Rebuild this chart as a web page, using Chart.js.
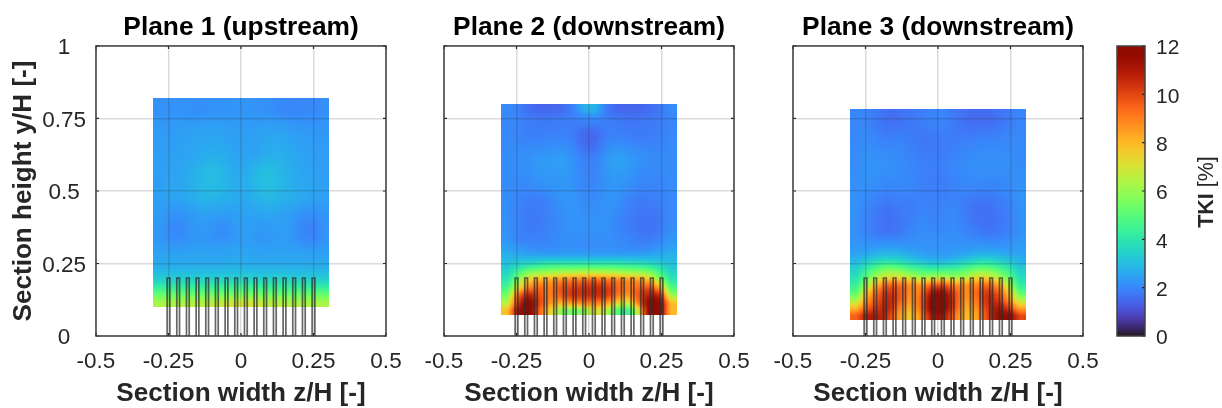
<!DOCTYPE html>
<html><head><meta charset="utf-8">
<script src="https://cdn.jsdelivr.net/npm/chart.js@4/dist/chart.umd.min.js"></script>
<style>html,body{margin:0;padding:0;background:#fff;width:1222px;height:408px;overflow:hidden}canvas{position:absolute;top:0}</style>
</head><body>
<canvas id="p1" width="416" height="408" style="left:0"></canvas>
<canvas id="p2" width="416" height="408" style="left:348px"></canvas>
<canvas id="p3" width="416" height="408" style="left:697px"></canvas>
<canvas id="cb" width="122" height="408" style="left:1100px"></canvas>
<script>
const xTicks=[-0.5,-0.25,0,0.25,0.5];
const yTicks=[0,0.25,0.5,0.75,1];
const cbTicks=[0,2,4,6,8,10,12];
const cbRange=[0,12];
const titles=["Plane 1 (upstream)","Plane 2 (downstream)","Plane 3 (downstream)"];
const xLabel="Section width z/H [-]";
const yLabel="Section height y/H [-]";
const vaneCenters=[-0.25,-0.2167,-0.1833,-0.15,-0.1167,-0.0833,-0.05,-0.0167,0.0167,0.05,0.0833,0.1167,0.15,0.1833,0.2167,0.25];
const vaneHalfWidth=0.0047;
const vaneTop=0.2;
const zCols=[-0.2845,-0.2466,-0.2086,-0.1707,-0.1328,-0.0948,-0.0569,-0.019,0.019,0.0569,0.0948,0.1328,0.1707,0.2086,0.2466,0.2845];
const plane1Edges=[0.82,0.744,0.668,0.592,0.516,0.44,0.364,0.337,0.311,0.284,0.258,0.231,0.205,0.178,0.152,0.125,0.0985];
const plane2Edges=[0.80,0.775,0.724,0.648,0.572,0.496,0.42,0.344,0.317,0.290,0.263,0.235,0.208,0.181,0.154,0.127,0.100,0.0725];
const plane3Edges=[0.782,0.706,0.630,0.554,0.478,0.402,0.326,0.299,0.272,0.245,0.218,0.191,0.163,0.136,0.109,0.082,0.055];
const plane1Values=[
[2.2,2.2,2.2,2.15,2.15,2.2,2.2,2.25,2.25,2.2,2.15,2.05,2.0,2.0,2.05,2.15],
[2.35,2.35,2.4,2.45,2.5,2.5,2.45,2.4,2.4,2.45,2.5,2.5,2.4,2.35,2.3,2.3],
[2.4,2.45,2.5,2.55,2.65,2.7,2.6,2.5,2.5,2.55,2.7,2.7,2.6,2.5,2.4,2.4],
[2.4,2.5,2.55,2.7,2.9,3.0,2.85,2.65,2.7,2.95,3.05,2.9,2.7,2.55,2.5,2.4],
[2.45,2.5,2.55,2.65,2.8,2.85,2.75,2.65,2.65,2.8,2.9,2.8,2.7,2.6,2.5,2.45],
[2.35,2.2,2.15,2.3,2.4,2.35,2.3,2.4,2.45,2.45,2.5,2.45,2.35,2.15,2.05,2.2],
[2.3,2.1,2.05,2.25,2.3,2.2,2.1,2.3,2.4,2.3,2.3,2.4,2.3,2.05,1.95,2.2],
[2.35,2.25,2.2,2.3,2.35,2.3,2.3,2.4,2.4,2.35,2.35,2.4,2.35,2.2,2.1,2.25],
[2.45,2.4,2.4,2.45,2.45,2.45,2.45,2.5,2.5,2.45,2.45,2.45,2.45,2.4,2.35,2.4],
[2.55,2.55,2.55,2.55,2.55,2.55,2.55,2.6,2.6,2.55,2.55,2.55,2.55,2.55,2.5,2.55],
[2.7,2.7,2.7,2.7,2.7,2.7,2.75,2.75,2.75,2.75,2.7,2.7,2.7,2.7,2.7,2.7],
[3.0,3.0,3.0,3.0,3.05,3.05,3.05,3.1,3.1,3.05,3.05,3.05,3.0,3.0,3.0,3.0],
[3.5,3.5,3.55,3.55,3.6,3.6,3.6,3.65,3.65,3.6,3.6,3.6,3.55,3.55,3.5,3.5],
[4.4,4.4,4.4,4.45,4.5,4.5,4.55,4.6,4.6,4.55,4.5,4.5,4.45,4.4,4.4,4.4],
[5.4,5.4,5.45,5.5,5.55,5.6,5.7,5.75,5.75,5.7,5.6,5.55,5.5,5.45,5.4,5.4],
[6.3,6.3,6.35,6.4,6.5,6.6,6.8,7.0,7.0,6.8,6.6,6.5,6.4,6.35,6.3,6.3]];
const plane2Values=[
[2.1,1.9,1.6,1.45,1.45,1.55,1.9,2.7,2.8,1.9,1.5,1.45,1.45,1.55,1.8,2.1],
[2.0,1.95,1.8,1.75,1.75,1.8,1.85,2.0,2.05,1.85,1.75,1.7,1.7,1.75,1.85,2.0],
[2.05,2.0,1.9,1.9,1.95,1.95,1.85,1.5,1.5,1.85,1.95,1.9,1.85,1.85,1.9,2.05],
[2.1,2.15,2.2,2.3,2.35,2.4,2.2,1.9,1.9,2.25,2.45,2.35,2.2,2.1,2.05,2.1],
[2.1,2.05,2.1,2.2,2.25,2.3,2.2,2.0,2.0,2.2,2.3,2.2,2.05,2.0,2.0,2.1],
[2.1,1.95,1.85,1.85,2.0,2.2,2.25,2.1,2.1,2.2,2.15,1.95,1.8,1.8,1.9,2.05],
[2.15,1.95,1.8,1.8,1.95,2.1,2.2,2.2,2.2,2.2,2.0,1.85,1.7,1.65,1.8,2.1],
[2.3,2.0,1.95,1.9,2.0,2.1,2.15,2.1,2.1,2.15,2.1,2.0,1.85,1.85,2.0,2.3],
[2.5,2.3,2.15,2.1,2.1,2.15,2.2,2.15,2.15,2.2,2.15,2.1,2.05,2.1,2.3,2.5],
[2.8,2.7,2.65,2.6,2.6,2.6,2.6,2.6,2.6,2.6,2.6,2.6,2.6,2.65,2.7,2.8],
[3.1,3.4,3.7,3.9,4.1,4.1,4.1,4.1,4.1,4.1,4.1,4.0,3.9,3.7,3.4,3.1],
[3.5,4.5,5.5,5.8,6.0,6.2,6.3,6.4,6.4,6.3,6.2,6.0,5.9,5.5,4.5,3.5],
[4.0,5.6,7.3,8.0,8.2,8.6,8.9,9.0,9.2,9.0,8.8,8.5,8.3,7.6,5.8,4.0],
[4.6,7.0,8.8,9.3,9.0,9.7,10.0,10.2,10.4,10.2,9.5,9.0,9.3,9.6,8.0,4.8],
[5.5,9.0,10.6,9.8,9.0,9.6,10.2,10.3,10.4,10.2,9.2,8.6,9.7,10.8,10.2,6.0],
[6.5,10.0,11.7,10.0,8.6,8.2,8.6,8.8,9.0,8.6,7.4,6.8,9.0,11.6,11.3,7.8],
[7.8,11.0,11.8,9.5,7.4,5.8,5.4,5.8,7.0,6.5,5.0,4.5,7.0,11.6,11.3,8.0]];
const plane3Values=[
[2.0,1.95,1.75,1.6,1.65,1.75,1.85,1.95,1.95,1.75,1.6,1.55,1.55,1.65,1.85,2.0],
[2.05,2.1,2.0,1.95,1.95,1.85,1.75,1.75,1.8,1.85,1.9,1.95,2.0,2.0,2.05,2.05],
[2.1,2.2,2.2,2.15,2.1,2.0,1.9,1.85,1.9,2.0,2.1,2.15,2.15,2.15,2.15,2.1],
[2.15,2.15,2.1,2.0,2.05,2.0,1.9,1.85,1.85,1.95,2.0,2.0,1.95,2.0,2.1,2.2],
[2.15,2.0,1.8,1.7,1.8,1.85,1.95,1.9,1.95,2.0,1.8,1.65,1.65,1.75,1.95,2.2],
[2.15,1.95,1.75,1.65,1.75,1.95,2.1,2.05,2.05,2.1,1.95,1.8,1.7,1.75,1.95,2.2],
[2.3,2.25,2.25,2.3,2.25,2.25,2.25,2.2,2.2,2.25,2.2,2.25,2.2,2.2,2.25,2.35],
[2.5,2.6,2.8,2.85,2.8,2.6,2.45,2.35,2.35,2.45,2.55,2.7,2.75,2.65,2.55,2.5],
[2.9,3.3,3.7,3.9,3.7,3.4,3.1,2.9,2.9,3.1,3.4,3.7,3.8,3.5,3.2,2.8],
[3.4,4.2,5.0,5.5,5.3,4.8,4.5,4.3,4.4,4.5,4.8,5.3,5.3,4.8,4.1,3.3],
[3.8,5.0,6.3,7.0,7.0,6.5,6.0,6.2,6.3,6.0,6.3,7.0,7.0,6.3,5.0,3.7],
[4.3,6.2,8.0,9.3,9.2,8.6,8.5,9.3,9.5,8.7,8.5,8.8,9.2,8.2,6.2,4.2],
[5.0,7.5,9.3,10.3,9.7,8.8,9.3,11.0,11.2,9.8,8.8,9.4,10.2,9.5,7.5,5.0],
[6.3,8.5,9.8,10.6,9.6,8.6,9.6,11.7,11.8,10.0,8.6,9.2,10.4,10.2,8.6,6.5],
[8.0,9.5,10.3,10.6,9.0,8.2,9.5,11.7,11.7,9.8,8.3,8.8,10.2,11.0,10.0,8.3],
[9.5,10.8,10.8,10.2,8.5,7.6,9.0,11.0,11.0,9.2,8.0,8.4,10.0,11.4,11.4,10.0]];

const FONT='"Liberation Sans", Arial, sans-serif';
const INK='#262626';
Chart.defaults.font.family=FONT;
Chart.defaults.animation=false;

function turbo(t){
  t=Math.min(1,Math.max(0,t));
  const p=c=>c.reduceRight((a,k)=>a*t+k,0);
  const ch=v=>Math.round(255*Math.min(1,Math.max(0,v)));
  return [ch(p([0.13572138,4.6153926,-42.66032258,132.13108234,-152.94239396,59.28637943])),
          ch(p([0.09140261,2.19418839,4.84296658,-14.18503333,4.27729857,2.82956604])),
          ch(p([0.1066733,12.64194608,-60.58204836,110.36276771,-89.90310912,27.34824973]))];
}
function cr(a,b,c,d,t){return 0.5*(2*b+(c-a)*t+(2*a-5*b+4*c-d)*t*t+(3*b-a-3*c+d)*t*t*t);}
function fracIndex(list,v){
  const up=list[1]>list[0];
  if(up?v<=list[0]:v>=list[0])return 0;
  for(let i=1;i<list.length;i++){
    if(up?v<=list[i]:v>=list[i])return i-1+(v-list[i-1])/(list[i]-list[i-1]);
  }
  return list.length-1;
}
function sampler(vals,ys){
  const R=vals.length,C=vals[0].length;
  const at=(r,c)=>vals[Math.max(0,Math.min(R-1,r))][Math.max(0,Math.min(C-1,c))];
  return (z,y)=>{
    const fc=fracIndex(zCols,z),fr=fracIndex(ys,y);
    const c=Math.min(C-1,Math.floor(fc)),r=Math.min(R-1,Math.floor(fr));
    const tc=fc-c,tr=fr-r,row=[];
    for(let k=-1;k<=2;k++)row.push(cr(at(r+k,c-1),at(r+k,c),at(r+k,c+1),at(r+k,c+2),tc));
    return cr(row[0],row[1],row[2],row[3],tr);
  };
}
function heatPoints(vals,edges){
  const pts=[];
  vals.forEach((row,r)=>row.forEach((v,c)=>pts.push({x:zCols[c],y:(edges[r]+edges[r+1])/2,v,r,c})));
  return pts;
}
function makeStyle(chart,pt,edges,sample){
  const xs=chart.scales.x,ys=chart.scales.y;
  const step=zCols[1]-zCols[0];
  const x0=xs.getPixelForValue(pt.x-step/2),x1=xs.getPixelForValue(pt.x+step/2);
  const y0=ys.getPixelForValue(edges[pt.r]),y1=ys.getPixelForValue(edges[pt.r+1]);
  if(!isFinite(x0+x1+y0+y1)||!(x1>x0)||!(y1>y0))return null;
  const w=Math.ceil(x1-x0)+2,h=Math.ceil(y1-y0)+2;
  const cx=(x0+x1)/2,cy=(y0+y1)/2;
  const cv=document.createElement('canvas');cv.width=w;cv.height=h;
  const g=cv.getContext('2d'),img=g.createImageData(w,h);
  for(let j=0;j<h;j++)for(let i=0;i<w;i++){
    const z=xs.getValueForPixel(cx-w/2+i+0.5),y=ys.getValueForPixel(cy-h/2+j+0.5);
    const col=turbo(sample(z,y)/12),o=(j*w+i)*4;
    img.data[o]=col[0];img.data[o+1]=col[1];img.data[o+2]=col[2];img.data[o+3]=255;
  }
  g.putImageData(img,0,0);
  return cv;
}
const clipHeat={id:'clipHeat',
  beforeDatasetDraw(chart,args){
    const d=chart.data.datasets[args.index];
    if(!d.heatEdges)return;
    const xs=chart.scales.x,ys=chart.scales.y,e=d.heatEdges,step=zCols[1]-zCols[0];
    const l=Math.round(xs.getPixelForValue(zCols[0]-step/2)),r=Math.round(xs.getPixelForValue(zCols[zCols.length-1]+step/2));
    const t=Math.round(ys.getPixelForValue(e[0])),b=Math.round(ys.getPixelForValue(e[e.length-1]));
    chart.ctx.save();chart.ctx.beginPath();chart.ctx.rect(l,t,r-l,b-t);chart.ctx.clip();
  },
  afterDatasetDraw(chart,args){
    if(chart.data.datasets[args.index].heatEdges)chart.ctx.restore();
  }};
const boxFrame={id:'boxFrame',afterDraw(chart){
  const {ctx,chartArea:a,scales}=chart;
  ctx.save();ctx.strokeStyle=INK;ctx.lineWidth=1.2;
  ctx.beginPath();
  if(scales.x&&scales.x.type==='linear'){
    scales.x.ticks.forEach(t=>{const p=scales.x.getPixelForValue(t.value);
      ctx.moveTo(p,a.bottom);ctx.lineTo(p,a.bottom-3);ctx.moveTo(p,a.top);ctx.lineTo(p,a.top+3);});
    scales.y.ticks.forEach(t=>{const p=scales.y.getPixelForValue(t.value);
      ctx.moveTo(a.left,p);ctx.lineTo(a.left+3,p);ctx.moveTo(a.right,p);ctx.lineTo(a.right-3,p);});
  }else{
    scales.y.ticks.forEach(t=>{const p=scales.y.getPixelForValue(t.value);
      ctx.moveTo(a.right,p);ctx.lineTo(a.right-3,p);});
  }
  ctx.stroke();
  ctx.lineWidth=1.5;ctx.strokeStyle='#404040';
  ctx.strokeRect(a.left,a.top,a.right-a.left,a.bottom-a.top);
  ctx.restore();
}};
function plane(id,idx,vals,edges,showY){
  const sample=sampler(vals,edges.slice(0,-1).map((e,i)=>(e+edges[i+1])/2));
  const cache=[];
  const vanes=vaneCenters.map(z=>({type:'scatter',showLine:true,pointRadius:0,borderColor:'rgba(45,45,45,0.72)',borderWidth:1.7,fill:false,
    data:[{x:z-vaneHalfWidth,y:0},{x:z-vaneHalfWidth,y:vaneTop},{x:z+vaneHalfWidth,y:vaneTop},{x:z+vaneHalfWidth,y:0}]}));
  const heat={type:'scatter',heatEdges:edges,showLine:false,data:heatPoints(vals,edges),pointRadius:4,pointBorderWidth:0,
    pointStyle(c){
      if(c.type!=='data'||!c.raw)return 'rect';
      if(cache[c.dataIndex])return cache[c.dataIndex];
      const s=makeStyle(c.chart,c.raw,edges,sample);
      if(!s)return 'rect';
      return cache[c.dataIndex]=s;
    }};
  const ch=new Chart(document.getElementById(id),{type:'scatter',
    data:{datasets:[...vanes,heat]},
    plugins:[clipHeat,boxFrame],
    options:{responsive:false,events:[],
      layout:{padding:{left:0,right:30,top:0,bottom:0}},
      plugins:{legend:{display:false},tooltip:{enabled:false},
        title:{display:true,text:titles[idx],color:'#000',fullSize:false,font:{size:26.3,weight:'bold',family:FONT},padding:{top:12,bottom:2.4}}},
      scales:{
        x:{type:'linear',min:-0.5,max:0.5,afterBuildTicks(s){s.ticks=xTicks.map(v=>({value:v}));},afterFit(s){s.height=72;},
          grid:{z:1,color:'rgba(38,38,38,0.17)',lineWidth:1.5,drawTicks:false},border:{display:false},
          ticks:{color:INK,font:{size:22.5},padding:12,maxRotation:0,autoSkip:false,callback:v=>String(v)},
          title:{display:true,text:xLabel,color:INK,font:{size:26.1,weight:'bold',lineHeight:1.06},padding:0}},
        y:{type:'linear',min:0,max:1,afterBuildTicks(s){s.ticks=yTicks.map(v=>({value:v}));},afterFit(s){s.width=96;},
          grid:{z:1,color:'rgba(38,38,38,0.17)',lineWidth:1.5,drawTicks:false},border:{display:false},
          ticks:{display:showY,color:INK,font:{size:22.5},padding:10,crossAlign:'center',labelOffset:2,autoSkip:false,callback:v=>String(v)},
          title:{display:showY,text:yLabel,color:INK,font:{size:26.1,weight:'bold'},padding:{top:8,bottom:0}}}
      }}});
  ch.update();
}
plane('p1',0,plane1Values,plane1Edges,true);
plane('p2',1,plane2Values,plane2Edges,false);
plane('p3',2,plane3Values,plane3Edges,false);

const cbLabel={id:'cbLabel',afterDraw(chart){
  const ctx=chart.ctx;ctx.save();ctx.translate(107,192);ctx.rotate(-Math.PI/2);
  ctx.fillStyle=INK;ctx.textBaseline='middle';
  ctx.font='bold 21.5px '+FONT;const a='TKI';const wa=ctx.measureText(a).width;
  ctx.font='21.5px '+FONT;const b=' [%]';const wb=ctx.measureText(b).width;
  let x=-(wa+wb)/2;
  ctx.font='bold 21.5px '+FONT;ctx.textAlign='left';ctx.fillText(a,x,0);
  ctx.font='21.5px '+FONT;ctx.fillText(b,x+wa,0);
  ctx.restore();
}};
new Chart(document.getElementById('cb'),{type:'bar',
  data:{labels:['TKI'],datasets:[{data:[cbRange],barPercentage:1,categoryPercentage:1,borderWidth:0,
    backgroundColor(c){
      const y=c.chart.scales.y;if(!y||!isFinite(y.getPixelForValue(0)))return '#000';
      const g=c.chart.ctx.createLinearGradient(0,y.getPixelForValue(cbRange[0]),0,y.getPixelForValue(cbRange[1]));
      for(let i=0;i<=64;i++){const r=turbo(i/64);g.addColorStop(i/64,`rgb(${r[0]},${r[1]},${r[2]})`);}
      return g;
    }}]},
  plugins:[boxFrame,cbLabel],
  options:{responsive:false,events:[],
    layout:{padding:{left:17,right:0,top:46,bottom:72}},
    plugins:{legend:{display:false},tooltip:{enabled:false}},
    scales:{
      x:{display:false,type:'category'},
      y:{type:'linear',position:'right',min:0,max:12,afterBuildTicks(s){s.ticks=cbTicks.map(v=>({value:v}));},afterFit(s){s.width=77;},
        grid:{display:false,drawTicks:false},border:{display:false},
        ticks:{color:INK,font:{size:21},padding:11,labelOffset:2.5,autoSkip:false}}
    }}});
</script>
</body></html>
